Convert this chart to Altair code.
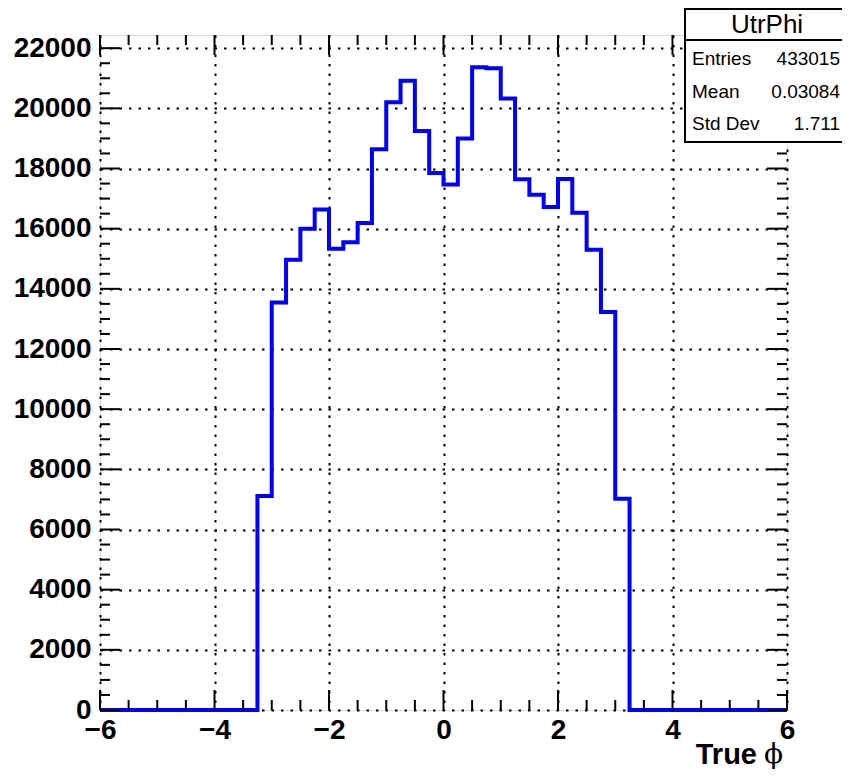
import altair as alt
import pandas as pd

# ---------------- data ----------------
x_lo, x_hi = -6.0, 6.0
bin_width = 0.25
first_filled_edge = -3.25
counts = [7110, 13550, 14970, 16000, 16640, 15330, 15550, 16190, 18640, 20200,
          20920, 19250, 17850, 17470, 19000, 21370, 21330, 20330, 17640, 17130,
          16720, 17650, 16530, 15300, 13230, 7020]
y_max = 22438
x_major = [-6, -4, -2, 0, 2, 4, 6]
y_major = [0, 2000, 4000, 6000, 8000, 10000, 12000, 14000, 16000, 18000, 20000, 22000]
x_minor = [v / 2 for v in range(-12, 13) if v % 4 != 0]
y_minor = [v for v in range(500, 22001, 500) if v % 2000 != 0]
stats_title = "UtrPhi"
stats_names = ["Entries", "Mean", "Std Dev"]
stats_values = ["433015", "0.03084", "1.711"]
x_title_word = "True"
x_title_symbol = "\u03d5"

# full histogram (48 bins from -6 to 6), step-after line
n_bins = int(round((x_hi - x_lo) / bin_width))
start = int(round((first_filled_edge - x_lo) / bin_width))
full = [0] * n_bins
for i, c in enumerate(counts):
    full[start + i] = c
edges = [x_lo + i * bin_width for i in range(n_bins)] + [x_hi]
hist = pd.DataFrame({"x": edges, "n": full + [full[-1]]})

# ---------------- layout ----------------
W, H = 687, 675
OX, OY = 100, 35   # page position of plot origin
SVG_R, SVG_B = 842, 771   # page extent of the svg (8px body margin)
FONT = "Liberation Sans"
xs = alt.Scale(domain=[x_lo, x_hi], nice=False, zero=False)
ys = alt.Scale(domain=[0, y_max], nice=False, zero=False)

axis_common = dict(domain=False, ticks=False, tickSize=0, labelFont=FONT,
                   labelFontWeight="bold", labelFontSize=28, labelColor="black",
                   labelFlush=False, labelOverlap=False, grid=True,
                   gridColor="black", gridDash=[2.5, 7], gridWidth=2,
                   gridOpacity=1, title=None, format="d")
xa = alt.Axis(values=x_major, labelPadding=6, labelBaseline="top", **axis_common)
ya = alt.Axis(values=y_major, labelPadding=9, **axis_common)

def xticks(vals, length, top):
    y0 = 0 if top else H
    y1 = length if top else H - length
    return alt.Chart(pd.DataFrame({"v": vals})).mark_rule(
        color="black", strokeWidth=2).encode(
        x=alt.X("v:Q", scale=xs, axis=xa),
        y=alt.value(y0), y2=alt.value(y1))

def yticks(vals, length, right):
    x0 = W if right else 0
    x1 = W - length if right else length
    return alt.Chart(pd.DataFrame({"v": vals})).mark_rule(
        color="black", strokeWidth=2).encode(
        y=alt.Y("v:Q", scale=ys, axis=ya),
        x=alt.value(x0), x2=alt.value(x1))

def txt(t, px, py, size, align="left", weight="normal", font=FONT):
    return alt.Chart(pd.DataFrame({"t": [t]})).mark_text(
        align=align, baseline="alphabetic", font=font, fontSize=size,
        fontWeight=weight, color="black").encode(
        x=alt.value(px - OX), y=alt.value(py - OY), text="t:N")

line = alt.Chart(hist).mark_line(
    interpolate="step-after", color="#0000ff", strokeWidth=4).encode(
    x=alt.X("x:Q", scale=xs, axis=xa),
    y=alt.Y("n:Q", scale=ys, axis=ya))

ticks = [
    xticks(x_major, 20, False), xticks(x_minor, 10, False),
    xticks(x_major, 20, True), xticks(x_minor, 10, True),
    yticks(y_major, 20, False), yticks(y_minor, 10, False),
    yticks(y_major, 20, True), yticks(y_minor, 10, True),
]

box = alt.Chart(pd.DataFrame({"a": [0]})).mark_rect(
    fill="white", stroke="black", strokeWidth=2).encode(
    x=alt.value(685 - OX), x2=alt.value(900 - OX),
    y=alt.value(9 - OY), y2=alt.value(142 - OY))
sep = alt.Chart(pd.DataFrame({"a": [0]})).mark_rule(
    color="black", strokeWidth=2).encode(
    x=alt.value(685 - OX), x2=alt.value(900 - OX),
    y=alt.value(40 - OY))

stats_baselines = [65, 98, 130]
stats_layers = [txt(stats_title, 767, 33, 26, align="center")]
for name, val, b in zip(stats_names, stats_values, stats_baselines):
    stats_layers.append(txt(name, 692, b, 19))
    stats_layers.append(txt(val, 840, b, 19, align="right"))

title_layers = [
    txt(x_title_word, 757, 764, 29, align="right", weight="bold"),
    txt(x_title_symbol, 783, 763, 28, align="right", font="DejaVu Serif"),
]

chart = alt.layer(line, *ticks, box, sep, *stats_layers, *title_layers).properties(
    width=W, height=H,
    autosize=alt.AutoSizeParams(type="none"),
    padding={"left": OX - 8, "top": OY - 8,
             "right": SVG_R - OX - W, "bottom": SVG_B - OY - H},
).configure_view(stroke="black", strokeWidth=2).configure(background="white")

chart.save("out.html", embed_options={"renderer": "svg", "actions": False})
